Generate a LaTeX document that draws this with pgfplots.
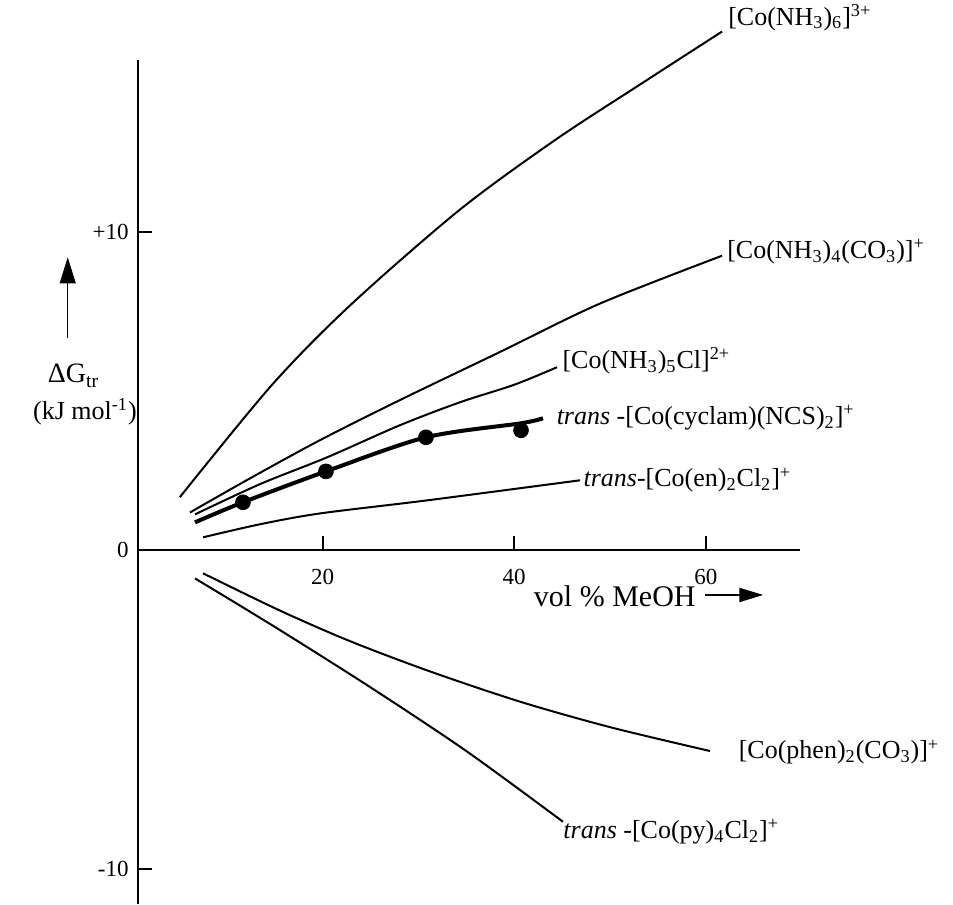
\documentclass[border=0pt]{standalone}
\usepackage{fontspec}
\setmainfont{Liberation Serif}
\usepackage{pgfplots}
\pgfplotsset{compat=1.18}
\usetikzlibrary{arrows.meta}

\newcommand{\lab}{\fontsize{13}{15}\selectfont}

\begin{document}
\begin{tikzpicture}
\begin{axis}[
  scale only axis, width=331pt, height=422pt,
  xmin=0.7, xmax=69.8, ymin=-11.1, ymax=15.4,
  axis x line=middle, axis y line=left,
  axis line style={-, line width=1pt},
  xtick={20,40,60}, ytick={-10,0,10},
  xticklabels={20,40,60}, yticklabels={-10,0,+10},
  tick align=inside, major tick length=7pt,
  tick style={line width=1pt, black},
  ticklabel style={font=\fontsize{11.5}{13}\selectfont},
  xticklabel style={yshift=-6pt},
  yticklabel style={xshift=-1pt},
  clip=false,
]
% page frame
\path (axis cs:-13.67,17.28) rectangle (axis cs:85.8,-11.1);

% [Co(NH3)6]3+
\addplot[black, line width=1pt, smooth] coordinates {
  (5.1,1.67) (14.7,5.19) (22.9,7.70) (34.3,10.69) (44.3,12.89) (53.1,14.62) (61.7,16.29)};
% [Co(NH3)4(CO3)]+
\addplot[black, line width=1pt, smooth] coordinates {
  (6.16,1.19) (12.42,2.26) (19.73,3.46) (28.08,4.72) (38.52,6.23) (48.96,7.75) (61.69,9.25)};
% [Co(NH3)5Cl]2+
\addplot[black, line width=1pt, smooth] coordinates {
  (6.68,1.13) (13.47,2.08) (20.46,2.92) (28.08,3.93) (34.34,4.65) (40.0,5.2) (44.47,5.75)};
% cyclam, thick with measured points
\addplot[black, line width=2pt, smooth] coordinates {
  (6.68,0.88) (11.69,1.51) (20.35,2.48) (30.79,3.55) (40.7,3.99) (43.0,4.15)};
\addplot[only marks, mark=*, mark size=3.7pt, black] coordinates {
  (11.69,1.51) (20.35,2.48) (30.79,3.55) (40.71,3.77)};
% en
\addplot[black, line width=1pt, smooth] coordinates {
  (7.52,0.41) (13.47,0.82) (19.73,1.16) (30.9,1.57) (46.87,2.20)};
% phen
\addplot[black, line width=1pt, smooth] coordinates {
  (7.52,-0.72) (15.55,-1.89) (22.86,-2.85) (31.21,-3.8) (40.61,-4.75) (50.0,-5.55) (60.44,-6.3)};
% py
\addplot[black, line width=1pt, smooth] coordinates {
  (6.68,-0.88) (15,-2.4) (25,-4.3) (35,-6.3) (45.09,-8.52)};

% curve labels
\node[anchor=west, inner sep=0, font=\lab] at (axis cs:62.3,16.73) {[Co(NH\textsubscript{3})\textsubscript{6}]\textsuperscript{3+}};
\node[anchor=west, inner sep=0, font=\lab] at (axis cs:62.2,9.37) {[Co(NH\textsubscript{3})\textsubscript{4}(CO\textsubscript{3})]\textsuperscript{+}};
\node[anchor=west, inner sep=0, font=\lab] at (axis cs:45.0,5.95) {[Co(NH\textsubscript{3})\textsubscript{5}Cl]\textsuperscript{2+}};
\node[anchor=west, inner sep=0, font=\lab] at (axis cs:44.4,4.16) {\textit{trans} -[Co(cyclam)(NCS)\textsubscript{2}]\textsuperscript{+}};
\node[anchor=west, inner sep=0, font=\lab] at (axis cs:47.2,2.21) {\textit{trans}-[Co(en)\textsubscript{2}Cl\textsubscript{2}]\textsuperscript{+}};
\node[anchor=west, inner sep=0, font=\lab] at (axis cs:63.4,-6.33) {[Co(phen)\textsubscript{2}(CO\textsubscript{3})]\textsuperscript{+}};
\node[anchor=west, inner sep=0, font=\lab] at (axis cs:45.1,-8.84) {\textit{trans} -[Co(py)\textsubscript{4}Cl\textsubscript{2}]\textsuperscript{+}};

% axis titles
\draw[line width=0.5pt, -{Triangle[length=13pt, width=8pt]}] (axis cs:-6.6,6.67) -- (axis cs:-6.6,9.2);
\node[font=\fontsize{14}{16}\selectfont] at (axis cs:-6.0,5.48) {ΔG\textsubscript{tr}};
\node[font=\lab] at (axis cs:-4.8,4.35) {(kJ mol\textsuperscript{-1})};
\node[font=\fontsize{15}{17}\selectfont] at (axis cs:50.5,-1.45) {vol \% MeOH};
\draw[line width=1pt, -{Triangle[length=12pt, width=7pt]}] (axis cs:59.9,-1.40) -- (axis cs:66.0,-1.40);
\end{axis}
\end{tikzpicture}
\end{document}
